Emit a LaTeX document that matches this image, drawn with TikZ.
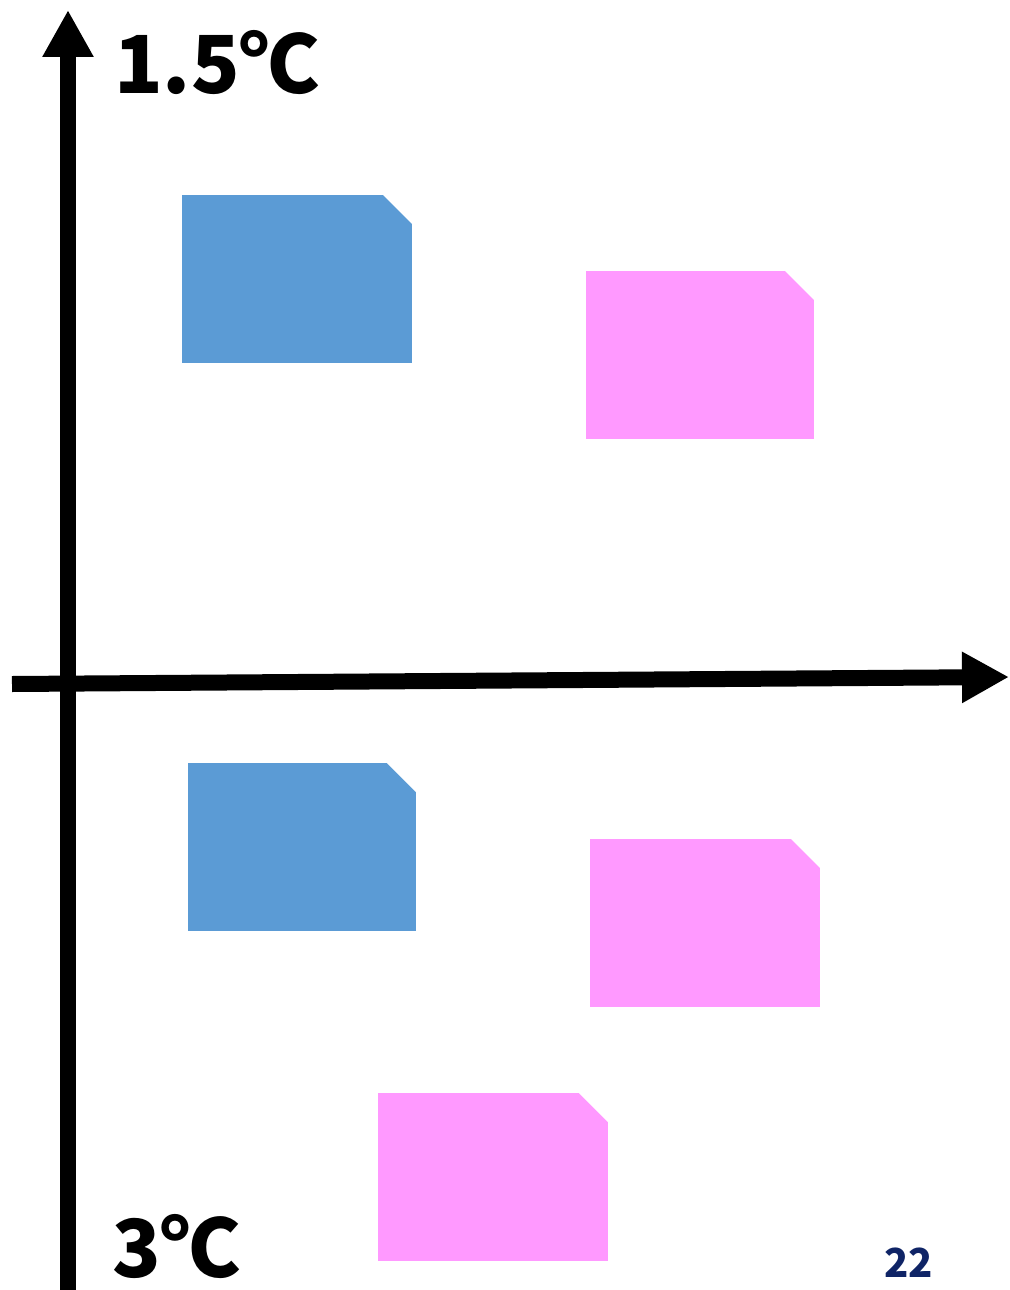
\documentclass[tikz,border=0pt]{standalone}
\usepackage{fontspec}
\newfontfamily\cjk{Noto Sans CJK JP}
\usetikzlibrary{arrows.meta}
\definecolor{boxblue}{HTML}{5B9BD5}
\definecolor{boxpink}{HTML}{FF99FF}
\definecolor{pagenum}{HTML}{0F2466}
\tikzset{
  axis/.style={line width=16pt, -{Triangle[length=47pt,width=48pt]}},
  snipbox/.style={inner sep=0pt, minimum height=168pt, fill=#1,
    path picture={\fill[white] (path picture bounding box.north east) -- ++(-29pt,0pt) -- ++(29pt,-29pt) -- cycle;}},
  bigtext/.style={font=\cjk\bfseries\fontsize{80}{80}\selectfont, inner sep=0pt, anchor=base west}
}
\begin{document}
\begin{tikzpicture}[x=1pt,y=-1pt]
\useasboundingbox (0,0) rectangle (1009,1290);
\coordinate (vbot) at (68,1290);
\coordinate (vtop) at (68,10);
\coordinate (hleft) at (12,684);
\coordinate (hright) at (1009,677);
\draw[axis] (vbot) -- (vtop);
\draw[axis] (hleft) -- (hright);
\node[snipbox=boxblue, minimum width=230pt] (b1) at (297,279) {};
\node[snipbox=boxpink, minimum width=228pt] (p1) at (700,355) {};
\node[snipbox=boxblue, minimum width=228pt] (b2) at (302,847) {};
\node[snipbox=boxpink, minimum width=230pt] (p2) at (705,923) {};
\node[snipbox=boxpink, minimum width=230pt] (p3) at (493,1177) {};
\node[bigtext] (top) at (114,93) {1.5℃};
\node[bigtext] (bot) at (112,1277) {3℃};
\node[font=\cjk\bfseries\fontsize{40}{40}\selectfont, text=pagenum, inner sep=0pt, anchor=base west] (pg) at (884,1277) {22};
\end{tikzpicture}
\end{document}
